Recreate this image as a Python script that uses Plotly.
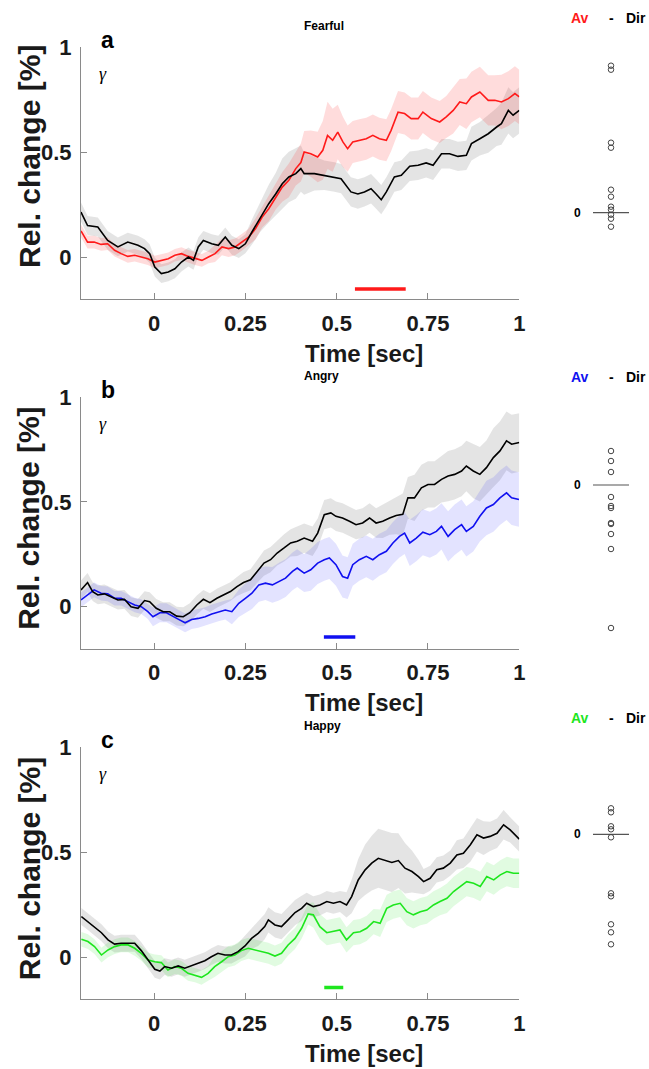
import plotly.graph_objects as go

# ---------------- data ----------------
# Panel a (Fearful)
t_a_dir = [-0.200,-0.182,-0.154,-0.127,-0.099,-0.072,-0.044,-0.026,-0.012,0.002,0.020,0.039,0.057,0.075,0.094,0.108,0.121,0.135,0.158,0.176,0.195,0.213,0.232,0.250,0.268,0.291,0.314,0.333,0.351,0.369,0.388,0.402,
           0.411,0.439,0.466,0.494,0.512,0.539,0.558,0.576,0.594,0.608,0.622,0.636,0.658,0.677,0.700,0.723,0.745,0.764,0.787,0.809,0.832,0.855,0.869,0.892,0.915,0.938,0.951,0.970,0.983,1.000]
v_a_dir = [0.214,0.150,0.143,0.079,0.048,0.071,0.056,0.040,0.016,-0.048,-0.079,-0.071,-0.056,-0.024,0.000,-0.016,0.048,0.079,0.063,0.056,0.095,0.056,0.040,0.063,0.119,0.190,0.254,0.300,0.349,0.381,0.397,0.421,
           0.397,0.397,0.389,0.381,0.373,0.310,0.300,0.310,0.325,0.300,0.273,0.310,0.381,0.389,0.432,0.437,0.448,0.437,0.492,0.492,0.479,0.484,0.540,0.563,0.587,0.619,0.635,0.698,0.675,0.698]
e_a_dir = [0.045]*24 + [0.06,0.07,0.09,0.10,0.12,0.12,0.12,0.11] + \
          [0.10,0.08,0.07,0.07,0.07,0.07,0.07,0.07,0.07,0.07,0.07,0.07,0.07,0.07,0.07,0.07,0.07,0.07,0.07,0.07,0.07,0.07,0.08,0.08,0.09,0.09,0.10,0.11,0.11,0.11]

t_a_av = [-0.200,-0.182,-0.164,-0.145,-0.127,-0.108,-0.090,-0.072,-0.053,-0.035,-0.017,0.002,0.020,0.039,0.057,0.075,0.094,0.112,0.131,0.149,0.167,0.186,0.204,0.222,0.241,0.259,0.278,0.296,0.314,0.333,0.351,0.369,0.388,0.402,0.411,
          0.429,0.448,0.462,0.475,0.489,0.503,0.517,0.530,0.544,0.562,0.581,0.599,0.617,0.636,0.649,0.668,0.686,0.704,0.723,0.736,0.759,0.782,0.800,0.819,0.837,0.855,0.869,0.892,0.915,0.933,0.951,0.970,0.988,1.000]
v_a_av = [0.124,0.071,0.071,0.060,0.063,0.032,0.016,0.003,0.008,0.000,-0.008,-0.024,-0.016,-0.008,0.008,0.016,0.003,-0.008,-0.016,0.000,0.016,0.048,0.040,0.048,0.071,0.095,0.135,0.190,0.230,0.286,0.333,0.365,0.421,0.450,0.500,
          0.492,0.476,0.508,0.579,0.556,0.595,0.548,0.516,0.548,0.556,0.563,0.579,0.563,0.556,0.603,0.690,0.683,0.659,0.659,0.690,0.659,0.643,0.667,0.698,0.738,0.730,0.762,0.786,0.746,0.746,0.738,0.754,0.778,0.762]
e_a_av = [0.03]*20 + [0.04]*6 + [0.05,0.05,0.06,0.06,0.07,0.08,0.08,0.09,0.10] + \
         [0.11,0.12,0.14,0.16,0.15,0.13,0.12,0.11,0.10,0.10,0.10,0.10,0.10,0.10,0.10,0.10,0.10,0.10,0.10,0.10,0.10,0.10,0.10,0.11,0.11,0.12,0.12,0.12,0.12,0.12,0.13,0.13,0.13,0.13]

# Panel b (Angry)
t_b_dir = [-0.200,-0.182,-0.168,-0.154,-0.136,-0.118,-0.099,-0.081,-0.063,-0.044,-0.026,-0.012,0.006,0.025,0.043,0.062,0.080,0.098,0.117,0.135,0.153,0.172,0.190,0.209,0.227,0.245,0.264,0.282,0.301,0.319,0.337,0.356,0.374,0.392,0.411,
           0.434,0.448,0.466,0.484,0.498,0.516,0.535,0.553,0.571,0.590,0.608,0.626,0.645,0.663,0.681,0.695,0.713,0.732,0.750,0.768,0.787,0.805,0.823,0.842,0.855,0.874,0.892,0.910,0.929,0.947,0.965,0.979,1.000]
v_b_dir = [0.080,0.115,0.072,0.056,0.061,0.048,0.032,0.035,0.000,-0.008,0.029,0.024,-0.008,-0.024,-0.024,-0.045,-0.048,-0.029,0.008,0.035,0.019,0.040,0.056,0.072,0.096,0.115,0.128,0.168,0.208,0.224,0.256,0.280,0.304,0.312,0.327,
           0.312,0.351,0.439,0.447,0.431,0.423,0.407,0.391,0.399,0.423,0.399,0.407,0.423,0.435,0.440,0.519,0.519,0.567,0.583,0.583,0.607,0.623,0.631,0.647,0.671,0.647,0.631,0.663,0.711,0.743,0.791,0.775,0.783]
e_b_dir = [0.045]*25 + [0.05,0.05,0.055,0.06,0.06,0.06,0.065,0.065,0.07,0.07] + [0.07]*11 + \
          [0.08,0.08,0.09,0.10,0.10,0.11,0.11,0.11,0.11,0.11,0.12,0.12,0.12,0.12,0.13,0.13,0.13,0.14,0.14,0.14,0.14,0.14]

t_b_av = [-0.200,-0.182,-0.164,-0.145,-0.127,-0.108,-0.090,-0.072,-0.053,-0.035,-0.017,-0.003,0.016,0.034,0.052,0.071,0.085,0.103,0.121,0.140,0.158,0.176,0.195,0.213,0.232,0.250,0.268,0.287,0.305,0.324,0.342,0.360,0.379,0.392,0.411,
          0.429,0.448,0.466,0.480,0.498,0.516,0.530,0.544,0.562,0.581,0.599,0.617,0.636,0.654,0.672,0.686,0.700,0.718,0.736,0.755,0.773,0.787,0.805,0.823,0.842,0.855,0.874,0.892,0.910,0.929,0.947,0.965,0.979,0.999]
v_b_av = [0.032,0.056,0.080,0.064,0.061,0.040,0.040,0.024,0.008,0.000,-0.024,-0.048,-0.029,-0.029,-0.048,-0.064,-0.077,-0.061,-0.056,-0.048,-0.035,-0.024,-0.016,-0.024,0.016,0.040,0.064,0.104,0.112,0.104,0.120,0.136,0.168,0.184,0.160,
          0.176,0.208,0.224,0.232,0.200,0.144,0.136,0.200,0.224,0.240,0.224,0.248,0.264,0.304,0.335,0.351,0.304,0.327,0.355,0.343,0.359,0.383,0.335,0.367,0.391,0.359,0.383,0.431,0.471,0.487,0.519,0.543,0.519,0.511]
e_b_av = [0.035]*11 + [0.045]*12 + [0.06,0.065,0.07,0.075,0.08,0.08,0.085,0.09,0.09,0.09,0.09,0.09] + \
         [0.10]*16 + [0.11]*6 + [0.12]*6 + [0.13]*6

# Panel c (Happy)
t_c_dir = [-0.199,-0.181,-0.163,-0.144,-0.126,-0.108,-0.090,-0.071,-0.053,-0.035,-0.016,0.002,0.016,0.029,0.048,0.066,0.084,0.102,0.121,0.139,0.157,0.175,0.194,0.212,0.230,0.249,0.267,0.285,0.303,0.313,0.331,0.349,0.367,0.386,0.404,0.418,0.436,0.454,0.473,0.491,0.509,0.527,0.541,0.559,0.578,0.596,0.614,0.633,0.651,0.669,0.687,0.706,0.724,0.738,0.756,0.774,0.792,0.811,0.829,0.847,0.866,0.884,0.902,0.920,0.939,0.957,0.975,1.000]
v_c_dir = [0.194,0.170,0.146,0.117,0.083,0.063,0.067,0.067,0.067,0.032,-0.013,-0.057,-0.065,-0.044,-0.052,-0.041,-0.052,-0.041,-0.029,-0.016,0.003,0.019,0.011,0.011,0.027,0.054,0.090,0.114,0.146,0.178,0.154,0.146,0.178,0.213,0.233,0.257,0.241,0.249,0.265,0.257,0.265,0.249,0.289,0.368,0.416,0.448,0.471,0.460,0.451,0.460,0.424,0.408,0.384,0.360,0.376,0.416,0.424,0.448,0.487,0.495,0.535,0.583,0.567,0.575,0.590,0.630,0.606,0.562]
e_c_dir = [0.04]*25 + [0.05,0.05,0.06,0.06,0.06,0.06,0.06,0.06,0.06,0.06] + [0.05,0.05,0.05,0.05,0.05,0.05,0.06] + \
          [0.08,0.10,0.12,0.13,0.14,0.14,0.14,0.13,0.12,0.10,0.08] + \
          [0.06,0.06,0.06,0.06,0.06,0.07,0.07,0.08,0.08,0.08,0.07,0.07,0.07,0.06,0.06]

t_c_av = [-0.199,-0.181,-0.163,-0.144,-0.126,-0.108,-0.090,-0.071,-0.053,-0.035,-0.016,0.002,0.020,0.038,0.057,0.075,0.093,0.112,0.130,0.148,0.166,0.185,0.203,0.221,0.239,0.258,0.276,0.294,0.313,0.331,0.349,0.367,0.386,0.404,0.422,
          0.436,0.454,0.473,0.491,0.509,0.527,0.546,0.564,0.582,0.601,0.619,0.637,0.655,0.674,0.692,0.710,0.729,0.747,0.765,0.783,0.802,0.820,0.838,0.856,0.875,0.893,0.911,0.930,0.948,0.966,0.984,1.000]
v_c_av = [0.086,0.075,0.051,0.011,0.035,0.051,0.059,0.059,0.043,0.019,-0.013,-0.021,-0.025,-0.060,-0.044,-0.052,-0.076,-0.084,-0.095,-0.076,-0.044,-0.021,0.003,0.011,0.032,0.043,0.035,0.027,0.019,0.006,0.019,0.059,0.090,0.138,0.206,
          0.202,0.146,0.117,0.122,0.130,0.083,0.117,0.122,0.138,0.170,0.162,0.233,0.249,0.257,0.217,0.202,0.217,0.225,0.249,0.265,0.281,0.313,0.337,0.360,0.352,0.337,0.384,0.368,0.392,0.408,0.400,0.400]
e_c_av = [0.035]*20 + [0.05]*15 + [0.06]*10 + [0.065]*10 + [0.07]*12

# significance bars (start, end, level)
sig_a = [0.550, 0.689, -0.152]
sig_b = [0.465, 0.551, -0.145]
sig_c = [0.466, 0.518, -0.143]

# Av - Dir difference per subject (arbitrary units)
diff_a = [1.47, 1.43, 0.70, 0.65, 0.23, 0.16, 0.06, 0.03, -0.02, -0.06, -0.14]
diff_b = [0.34, 0.24, 0.13, -0.12, -0.21, -0.23, -0.38, -0.39, -0.49, -0.64, -1.43]
diff_c = [0.26, 0.22, 0.08, 0.05, -0.03, -0.59, -0.62, -0.90, -0.98, -1.10]

titles = ["Fearful", "Angry", "Happy"]
letters = ["a", "b", "c"]
x_ticks = [0, 0.25, 0.5, 0.75, 1]
x_ticktext = ["0", "0.25", "0.5", "0.75", "1"]
y_ticks = [0, 0.5, 1]
y_ticktext = ["0", "0.5", "1"]

# ---------------- layout helpers ----------------
W, H = 649, 1069
def px(x): return x / W
def py(y): return 1 - y / H

panels = [  # top px, bottom px, dot range, y-label shift
    dict(top=47, bot=299, drange=[-0.863, 1.657], lab=-16),
    dict(top=397, bot=648.6, drange=[-1.636, 0.88], lab=-4),
    dict(top=747, bot=999.4, drange=[-1.651, 0.873], lab=-4),
]
colors = ["#ff1a1a", "#1010f0", "#1ee61e"]
band_colors = ["rgba(255,40,40,0.16)", "rgba(40,40,255,0.13)", "rgba(40,230,40,0.14)"]
gray_band = "rgba(150,150,150,0.26)"

data = [
    (t_a_dir, v_a_dir, e_a_dir, t_a_av, v_a_av, e_a_av, sig_a, diff_a),
    (t_b_dir, v_b_dir, e_b_dir, t_b_av, v_b_av, e_b_av, sig_b, diff_b),
    (t_c_dir, v_c_dir, e_c_dir, t_c_av, v_c_av, e_c_av, sig_c, diff_c),
]

FONT = "Liberation Sans, Arial, sans-serif"
fig = go.Figure()
annotations = []

def band(t, v, e, color, xa, ya):
    up = [a + b for a, b in zip(v, e)]
    lo = [a - b for a, b in zip(v, e)]
    return go.Scatter(x=list(t) + list(t)[::-1], y=up + lo[::-1], fill="toself",
                      fillcolor=color, line=dict(width=0), mode="lines",
                      hoverinfo="skip", showlegend=False, xaxis=xa, yaxis=ya)

for i, (td, vd, ed, tv, vv, ev, sig, diff) in enumerate(data):
    n = i + 1
    xa, ya = ("x" if n == 1 else f"x{n}"), ("y" if n == 1 else f"y{n}")
    dn = n + 3
    dxa, dya = f"x{dn}", f"y{dn}"
    fig.add_trace(band(td, vd, ed, gray_band, xa, ya))
    fig.add_trace(band(tv, vv, ev, band_colors[i], xa, ya))
    fig.add_trace(go.Scatter(x=tv, y=vv, mode="lines", line=dict(color=colors[i], width=1.6),
                             showlegend=False, xaxis=xa, yaxis=ya))
    fig.add_trace(go.Scatter(x=td, y=vd, mode="lines", line=dict(color="black", width=1.6),
                             showlegend=False, xaxis=xa, yaxis=ya))
    fig.add_trace(go.Scatter(x=[sig[0], sig[1]], y=[sig[2], sig[2]], mode="lines",
                             line=dict(color=colors[i], width=3.5), showlegend=False,
                             xaxis=xa, yaxis=ya))
    # dot column
    fig.add_trace(go.Scatter(x=[-0.5, 0.5], y=[0, 0], mode="lines",
                             line=dict(color="#555555", width=1.2), showlegend=False,
                             xaxis=dxa, yaxis=dya))
    fig.add_trace(go.Scatter(x=[0] * len(diff), y=diff, mode="markers",
                             marker=dict(symbol="circle-open", size=5.5, color="#444444",
                                         line=dict(width=1)),
                             showlegend=False, xaxis=dxa, yaxis=dya))

    p = panels[i]
    dom_y = [py(p["bot"]), py(p["top"])]
    axx = dict(domain=[px(81), px(519.3)], range=[-0.2, 1], anchor=ya, automargin=False,
               tickvals=x_ticks, ticktext=x_ticktext, ticks="inside", ticklen=6,
               tickcolor="#8a8a8a", showline=True, linecolor="#8a8a8a", linewidth=1.2,
               showgrid=False, zeroline=False,
               tickfont=dict(family=FONT, size=22, color="#1a1a1a", weight="bold"),
               ticklabelstandoff=4)
    axy = dict(domain=dom_y, range=[-0.2, 1], anchor=xa, automargin=False,
               tickvals=y_ticks, ticktext=y_ticktext, ticks="inside", ticklen=6,
               tickcolor="#8a8a8a", showline=True, linecolor="#8a8a8a", linewidth=1.2,
               showgrid=False, zeroline=False,
               tickfont=dict(family=FONT, size=22, color="#1a1a1a", weight="bold"),
               ticklabelstandoff=4)
    kx = "xaxis" if n == 1 else f"xaxis{n}"
    ky = "yaxis" if n == 1 else f"yaxis{n}"
    fig.update_layout(**{kx: axx, ky: axy})
    fig.update_layout(**{
        f"xaxis{dn}": dict(domain=[px(575), px(647)], range=[-1, 1], visible=False,
                           anchor=dya, automargin=False),
        f"yaxis{dn}": dict(domain=dom_y, range=p["drange"], visible=False,
                           anchor=dxa, automargin=False),
    })

    top, bot = p["top"], p["bot"]
    annotations += [
        dict(text=f"<b>{titles[i]}</b>", x=px(302), y=py(top - 21), xref="paper", yref="paper",
             xanchor="left", yanchor="middle", showarrow=False,
             font=dict(family=FONT, size=12, color="black")),
        dict(text=f"<b>{letters[i]}</b>", x=px(99), y=py(top - 7), xref="paper", yref="paper",
             xanchor="left", yanchor="middle", showarrow=False,
             font=dict(family=FONT, size=23, color="black")),
        dict(text="<i>γ</i>", x=px(103), y=py(top + 27), xref="paper", yref="paper",
             xanchor="center", yanchor="middle", showarrow=False,
             font=dict(family="Liberation Serif, DejaVu Serif, serif", size=18, color="black")),
        dict(text="<b>Time [sec]</b>", x=px(364), y=py(bot + 54), xref="paper", yref="paper",
             xanchor="center", yanchor="middle", showarrow=False,
             font=dict(family=FONT, size=24, color="#1a1a1a")),
        dict(text="<b>Rel. change [%]</b>", x=px(29), y=py((top + bot) / 2 + p["lab"]),
             xref="paper", yref="paper", xanchor="center", yanchor="middle", textangle=-90,
             showarrow=False, font=dict(family=FONT, size=30, color="#1a1a1a")),
        dict(text="<b>Av</b>", x=px(580), y=py([18, 377, 718][i]), xref="paper", yref="paper",
             xanchor="center", yanchor="middle", showarrow=False,
             font=dict(family=FONT, size=14, color=colors[i])),
        dict(text="<b>-</b>", x=px(611), y=py([18, 377, 718][i]), xref="paper", yref="paper",
             xanchor="center", yanchor="middle", showarrow=False,
             font=dict(family=FONT, size=14, color="black")),
        dict(text="<b>Dir</b>", x=px(636), y=py([18, 377, 718][i]), xref="paper", yref="paper",
             xanchor="center", yanchor="middle", showarrow=False,
             font=dict(family=FONT, size=14, color="black")),
        dict(text="<b>0</b>", x=px(577), y=0, xref="paper", yref=dya,
             xanchor="center", yanchor="middle", showarrow=False,
             font=dict(family=FONT, size=12, color="black")),
    ]

fig.update_layout(width=W, height=H,
                  margin=dict(l=0, r=0, t=0, b=0, pad=0, autoexpand=False),
                  paper_bgcolor="white", plot_bgcolor="white", showlegend=False,
                  annotations=annotations)
fig.write_html("out.html", config={"displayModeBar": False},
               post_script="document.body.style.margin='0';document.body.style.padding='0';"
                           "document.body.style.overflow='hidden';")
